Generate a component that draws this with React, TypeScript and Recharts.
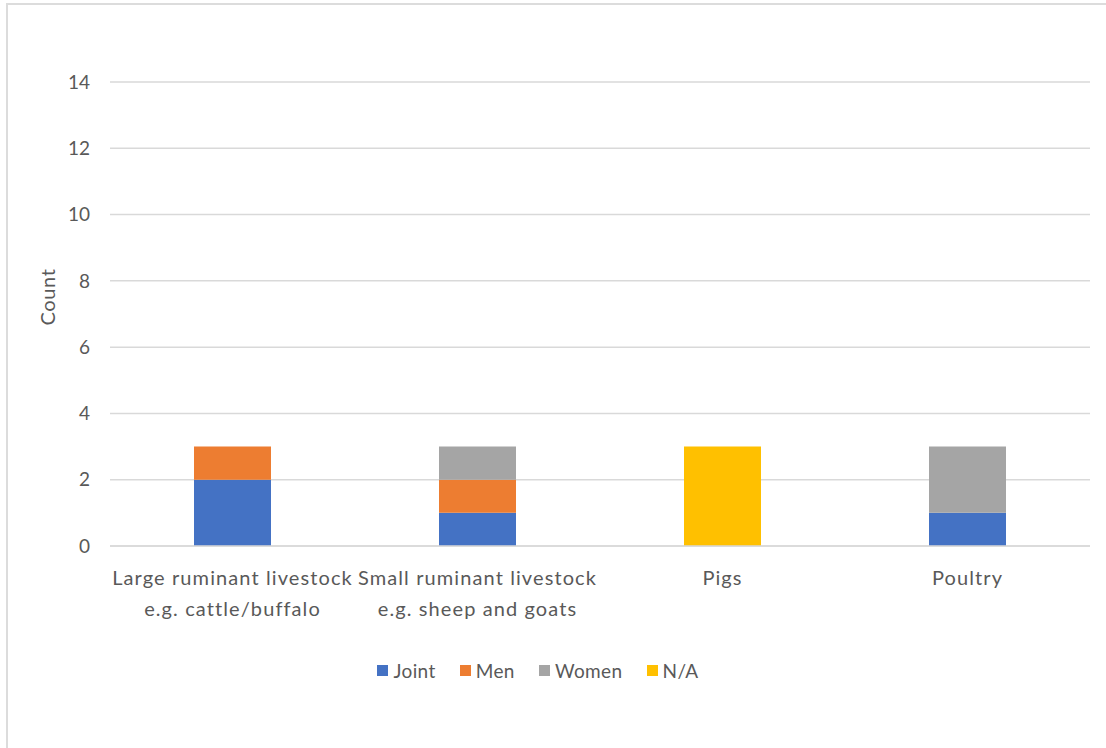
import React from 'react';
import { BarChart, Bar, XAxis, YAxis, CartesianGrid, Legend } from 'recharts';

const categories = ['Large ruminant livestock e.g. cattle/buffalo', 'Small ruminant livestock e.g. sheep and goats', 'Pigs', 'Poultry'];
const categoryLines = [
  ['Large ruminant livestock', 'e.g. cattle/buffalo'],
  ['Small ruminant livestock', 'e.g. sheep and goats'],
  ['Pigs'],
  ['Poultry'],
];
const joint = [2, 1, 0, 1];
const men = [1, 1, 0, 0];
const women = [0, 1, 0, 2];
const na = [0, 0, 3, 0];
const yTicks = [0, 2, 4, 6, 8, 10, 12, 14];

const seriesNames = ['Joint', 'Men', 'Women', 'N/A'];
const seriesColors = ['#4472C4', '#ED7D31', '#A5A5A5', '#FFC000'];

const data = categories.map((name, i) => ({
  name,
  joint: joint[i],
  men: men[i],
  women: women[i],
  na: na[i],
}));

const FONT = 'Lato, "Open Sans", sans-serif';
const TEXT = '#595959';

const CategoryTick = (props: any) => {
  const { x, y, payload } = props;
  const lines = categoryLines[categories.indexOf(payload.value)] || [payload.value];
  return (
    <text x={x} y={y} textAnchor="middle" fill={TEXT} fontSize={20} fontFamily={FONT} letterSpacing={1.1}>
      {lines.map((l, i) => (
        <tspan key={i} x={x} dy={i === 0 ? 31 : 31}>{l}</tspan>
      ))}
    </text>
  );
};

const LegendContent = () => (
  <div style={{ display: 'flex', justifyContent: 'center', fontFamily: FONT, fontSize: 19, color: TEXT, letterSpacing: 0.4 }}>
    {seriesNames.map((n, i) => (
      <div key={n} style={{ display: 'flex', alignItems: 'center', marginRight: i < seriesNames.length - 1 ? 24 : 0 }}>
        <span style={{ width: 11, height: 11, background: seriesColors[i], marginRight: 5, display: 'inline-block' }} />
        <span>{n}</span>
      </div>
    ))}
  </div>
);

const App: React.FC = () => {
  return (
    <div style={{ position: 'absolute', left: 0, top: 0, width: 1106, height: 748, overflow: 'hidden', background: '#fff' }}>
      <div style={{ position: 'absolute', left: 6, top: 3, width: 1200, height: 800, border: '2px solid #dcdcdc' }} />
      <div style={{ position: 'absolute', left: 0, top: 0 }}>
        <BarChart width={1106} height={748} data={data} margin={{ top: 82, right: 16, bottom: 98, left: 50 }}>
          <CartesianGrid horizontal vertical={false} stroke="#d9d9d9" strokeWidth={1.5} />
          <XAxis
            dataKey="name"
            tick={<CategoryTick />}
            tickLine={false}
            axisLine={{ stroke: '#d9d9d9', strokeWidth: 1.5 }}
            interval={0}
            height={80}
          />
          <YAxis
            domain={[0, 14]}
            ticks={yTicks}
            width={60}
            tickLine={false}
            axisLine={false}
            tickSize={0}
            tickMargin={20}
            tick={{ fill: TEXT, fontSize: 19, fontFamily: FONT }}
            label={{
              content: () => (
                <text x={47} y={297} transform="rotate(-90 47 297)" textAnchor="middle" dominantBaseline="central" fill={TEXT} fontSize={20} fontFamily={FONT} letterSpacing={0.6}>
                  Count
                </text>
              ),
            }}
          />
          <Legend
            content={<LegendContent />}
            wrapperStyle={{ position: 'absolute', left: 0, top: 659, width: 1076, height: 24 }}
          />
          <Bar dataKey="joint" name="Joint" stackId="a" fill={seriesColors[0]} barSize={77} isAnimationActive={false} />
          <Bar dataKey="men" name="Men" stackId="a" fill={seriesColors[1]} barSize={77} isAnimationActive={false} />
          <Bar dataKey="women" name="Women" stackId="a" fill={seriesColors[2]} barSize={77} isAnimationActive={false} />
          <Bar dataKey="na" name="N/A" stackId="a" fill={seriesColors[3]} barSize={77} isAnimationActive={false} />
        </BarChart>
      </div>
    </div>
  );
};

export default App;
